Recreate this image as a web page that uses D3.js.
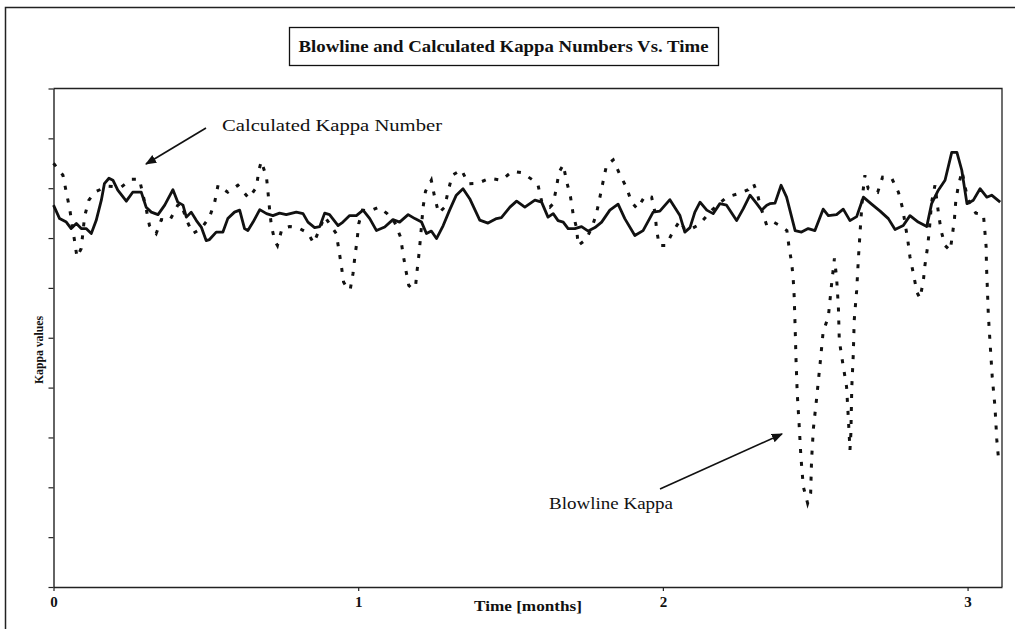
<!DOCTYPE html>
<html>
<head>
<meta charset="utf-8">
<script src="https://cdn.jsdelivr.net/npm/d3@7"></script>
<style>
  html, body { margin: 0; padding: 0; background: #fff; }
  svg { display: block; }
</style>
</head>
<body>
<svg id="chart" width="1015" height="629"></svg>
<script>
// Time axis ticks (months) and the unlabelled kappa gridline positions
const monthTicks = [0, 1, 2, 3];
const monthLabels = ["0", "1", "2", "3"];
const kappaTicks = [0, 10, 20, 30, 40, 50, 60, 70, 80, 90, 100];

// Calculated kappa number (solid line)
const calcTime = [0,0.020,0.042,0.058,0.075,0.091,0.107,0.124,0.140,0.157,
  0.167,0.182,0.195,0.211,0.239,0.260,0.288,0.304,0.321,0.343,
  0.365,0.392,0.408,0.425,0.436,0.452,0.469,0.485,0.501,0.512,
  0.534,0.556,0.572,0.594,0.611,0.627,0.638,0.655,0.677,0.699,
  0.720,0.742,0.764,0.797,0.819,0.835,0.857,0.874,0.890,0.906,
  0.934,0.950,0.972,0.994,1.016,1.038,1.060,1.087,1.114,1.136,
  1.164,1.186,1.208,1.224,1.240,1.257,1.279,1.300,1.322,1.344,
  1.366,1.399,1.426,1.454,1.470,1.498,1.520,1.547,1.580,1.602,
  1.623,1.640,1.656,1.673,1.689,1.711,1.733,1.755,1.777,1.799,
  1.826,1.853,1.875,1.908,1.935,1.968,1.990,2.023,2.056,2.072,
  2.089,2.105,2.122,2.144,2.165,2.187,2.209,2.242,2.264,2.286,
  2.308,2.324,2.341,2.351,2.368,2.388,2.406,2.434,2.455,2.477,
  2.499,2.526,2.543,2.570,2.592,2.614,2.636,2.658,2.685,2.713,
  2.740,2.762,2.789,2.811,2.838,2.866,2.882,2.904,2.926,2.948,
  2.965,2.981,2.998,3.019,3.041,3.063,3.079,3.107];
const calcKappa = [76.6,73.9,73.2,71.9,72.9,71.9,71.9,70.9,73.5,77.6,
  80.9,82.0,81.6,79.6,77.4,79.2,79.2,76.2,75.2,74.7,
  76.6,79.7,77.2,76.6,74.2,75.2,73.5,72.2,69.5,69.7,
  71.2,71.2,73.9,75.2,75.6,71.9,71.5,73.2,75.7,74.9,
  74.5,75.0,74.7,75.2,74.9,73.2,72.1,72.3,75.0,74.7,
  72.5,73.2,74.5,74.5,75.6,73.9,71.5,72.2,73.7,73.2,
  74.7,73.9,73.2,70.9,71.4,69.9,72.5,75.6,78.6,79.9,
  77.9,73.6,73.0,73.9,74.1,76.2,77.4,76.2,77.6,77.2,
  74.2,74.9,73.5,73.2,71.9,71.9,72.3,71.4,72.1,73.2,
  75.6,76.8,73.9,70.5,71.5,75.2,75.4,77.7,74.5,71.2,
  72.1,75.2,77.2,75.6,74.9,76.9,76.6,73.5,75.9,78.6,
  76.9,75.6,76.6,76.9,77.0,80.6,78.2,71.5,71.2,71.9,
  71.5,75.8,74.5,74.7,75.8,73.5,74.3,78.2,76.8,75.4,
  73.9,71.7,72.5,74.5,73.2,72.3,76.9,79.6,81.6,87.2,
  87.2,83.6,76.9,77.6,79.9,78.2,78.6,77.2];

// Blowline kappa (dotted line)
const blowTime = [0,0.031,0.042,0.053,0.069,0.077,0.091,0.102,0.116,0.135,
  0.177,0.222,0.255,0.282,0.304,0.315,0.337,0.354,0.381,0.408,
  0.419,0.436,0.457,0.485,0.512,0.529,0.540,0.572,0.605,0.641,
  0.666,0.674,0.682,0.699,0.704,0.709,0.715,0.726,0.735,0.750,
  0.775,0.802,0.835,0.854,0.890,0.928,0.937,0.945,0.952,0.966,
  0.974,0.983,0.989,0.996,1.002,1.014,1.038,1.068,1.095,1.120,
  1.139,1.147,1.156,1.166,1.176,1.188,1.193,1.199,1.204,1.213,
  1.221,1.240,1.251,1.264,1.284,1.295,1.309,1.339,1.361,1.393,
  1.432,1.470,1.506,1.538,1.574,1.590,1.602,1.629,1.640,1.651,
  1.659,1.673,1.684,1.697,1.705,1.717,1.722,1.747,1.766,1.782,
  1.793,1.804,1.815,1.837,1.859,1.881,1.897,1.916,1.941,1.963,
  1.974,1.979,1.988,2.010,2.034,2.056,2.072,2.095,2.119,2.161,
  2.209,2.247,2.280,2.297,2.310,2.319,2.341,2.363,2.390,2.407,
  2.414,2.423,2.428,2.431,2.434,2.437,2.441,2.447,2.453,2.461,
  2.475,2.485,2.488,2.494,2.505,2.516,2.526,2.543,2.554,2.563,
  2.570,2.576,2.579,2.587,2.603,2.609,2.614,2.617,2.620,2.625,
  2.628,2.636,2.642,2.649,2.656,2.663,2.674,2.705,2.721,2.751,
  2.773,2.787,2.804,2.811,2.822,2.834,2.844,2.855,2.860,2.868,
  2.874,2.882,2.893,2.904,2.913,2.926,2.943,2.950,2.957,2.961,
  2.970,2.982,2.992,3.002,3.027,3.052,3.057,3.061,3.062,3.064,
  3.068,3.074,3.081,3.090,3.096,3.101,3.107];
const blowKappa = [85.0,82.6,79.2,75.9,69.5,66.2,67.9,74.3,77.6,79.2,
  80.4,80.2,81.8,81.8,75.9,72.5,70.9,73.7,73.5,76.6,
  76.9,73.7,70.9,71.9,74.2,77.2,80.6,79.2,80.6,78.0,
  80.2,83.6,85.4,82.2,79.2,75.9,72.5,69.5,68.5,71.9,
  72.3,72.1,71.0,69.0,74.3,70.9,67.5,64.3,61.2,59.7,
  59.7,62.9,66.2,69.4,72.9,75.6,75.4,76.2,74.9,73.1,
  70.2,66.9,63.7,60.5,59.9,60.2,63.3,66.5,69.7,76.2,
  79.4,81.6,78.2,75.0,76.2,79.4,82.6,83.7,80.9,81.0,
  82.0,81.6,83.4,83.1,81.6,80.7,77.4,76.2,76.9,80.2,
  83.2,84.7,81.4,78.2,75.0,71.9,68.5,69.7,71.9,74.9,
  78.1,81.4,84.6,85.7,82.7,80.1,77.2,75.9,78.4,78.2,
  75.2,71.9,68.5,68.5,71.4,73.5,71.7,71.9,72.7,75.6,
  78.2,78.9,79.7,81.0,78.9,76.6,72.5,73.2,72.3,71.5,
  68.2,64.9,61.5,58.2,52.2,45.5,38.8,32.8,26.1,20.1,
  16.8,18.8,25.5,31.8,38.1,44.8,51.2,54.2,60.9,65.9,
  62.2,56.2,49.5,46.2,40.1,33.5,27.5,30.8,40.1,46.8,
  53.5,59.5,66.2,72.9,78.9,82.6,79.9,79.2,82.2,82.0,
  79.2,75.9,69.5,66.2,62.9,59.1,57.9,61.5,64.5,67.9,
  71.2,77.2,80.6,75.2,71.5,68.5,67.5,70.5,73.9,77.2,
  80.6,83.4,80.2,77.6,75.0,74.7,71.2,68.2,64.5,61.5,
  54.8,48.8,42.1,36.1,29.5,26.1,25.0];

const titleText = "Blowline and Calculated Kappa Numbers Vs. Time";
const calcLabel = "Calculated Kappa Number";
const blowLabel = "Blowline Kappa";
const xTitle = "Time [months]";
const yTitle = "Kappa values";

const svg = d3.select("#chart");
const serif = "'Liberation Serif', 'DejaVu Serif', serif";

const plot = { left: 53.5, top: 88.5, right: 1002, bottom: 587 };
const x = d3.scaleLinear().domain([0, 3.113]).range([plot.left, plot.right]);
const y = d3.scaleLinear().domain([0, 100]).range([plot.bottom, plot.top]);

// Page frame (top and left edges)
svg.append("path")
  .attr("d", "M5.5,629 L5.5,7.5 L1015,7.5")
  .attr("fill", "none").attr("stroke", "#222").attr("stroke-width", 1.5);

// Title box
svg.append("rect")
  .attr("x", 289.5).attr("y", 27.5).attr("width", 429).attr("height", 38)
  .attr("fill", "#fff").attr("stroke", "#111").attr("stroke-width", 1.3);
svg.append("text")
  .attr("x", 503.5).attr("y", 52)
  .attr("text-anchor", "middle")
  .attr("font-family", serif).attr("font-weight", "bold").attr("font-size", 17)
  .attr("textLength", 410).attr("lengthAdjust", "spacingAndGlyphs")
  .attr("fill", "#111")
  .text(titleText);

// Plot border: top and right edges
svg.append("path")
  .attr("d", `M${plot.left},${plot.top} L${plot.right},${plot.top} L${plot.right},${plot.bottom}`)
  .attr("fill", "none").attr("stroke", "#222").attr("stroke-width", 1.3);

// Axes
const yAxis = d3.axisLeft(y).tickValues(kappaTicks).tickFormat("").tickSize(5).tickSizeOuter(0);
const yG = svg.append("g").attr("transform", `translate(${plot.left},0)`).call(yAxis);
yG.select(".domain").attr("stroke", "#222").attr("stroke-width", 1.4);
yG.selectAll(".tick line").attr("stroke", "#222").attr("stroke-width", 1.2);

const xAxis = d3.axisBottom(x).tickValues(monthTicks)
  .tickFormat((d, i) => monthLabels[i]).tickSize(4).tickSizeOuter(0).tickPadding(5);
const xG = svg.append("g").attr("transform", `translate(0,${plot.bottom})`).call(xAxis);
xG.select(".domain").attr("stroke", "#222").attr("stroke-width", 1.4);
xG.selectAll(".tick line").attr("stroke", "#222").attr("stroke-width", 1.2);
xG.selectAll(".tick text")
  .attr("font-family", serif).attr("font-weight", "bold").attr("font-size", 15)
  .attr("fill", "#111");

// Axis titles
svg.append("text")
  .attr("x", 528).attr("y", 611)
  .attr("text-anchor", "middle")
  .attr("font-family", serif).attr("font-weight", "bold").attr("font-size", 15)
  .attr("textLength", 108).attr("lengthAdjust", "spacingAndGlyphs")
  .attr("fill", "#111")
  .text(xTitle);
svg.append("text")
  .attr("transform", "translate(43,350) rotate(-90)")
  .attr("text-anchor", "middle")
  .attr("font-family", serif).attr("font-weight", "bold").attr("font-size", 13)
  .attr("textLength", 68).attr("lengthAdjust", "spacingAndGlyphs")
  .attr("fill", "#111")
  .text(yTitle);

// Series
const line = d3.line().x(d => x(d[0])).y(d => y(d[1]));
const blowData = d3.zip(blowTime, blowKappa);
const calcData = d3.zip(calcTime, calcKappa);

svg.append("path")
  .datum(blowData)
  .attr("d", line)
  .attr("fill", "none").attr("stroke", "#111")
  .attr("stroke-width", 3).attr("stroke-dasharray", "4,9");

svg.append("path")
  .datum(calcData)
  .attr("d", line)
  .attr("fill", "none").attr("stroke", "#111")
  .attr("stroke-width", 2.8).attr("stroke-linejoin", "round");

// Annotations with arrows
const defs = svg.append("defs");
defs.append("marker")
  .attr("id", "arrowhead")
  .attr("viewBox", "0 0 10 10").attr("refX", 9).attr("refY", 5)
  .attr("markerWidth", 7).attr("markerHeight", 7).attr("orient", "auto")
  .append("path").attr("d", "M0,1 L10,5 L0,9 z").attr("fill", "#111");

svg.append("text")
  .attr("x", 222).attr("y", 131)
  .attr("font-family", serif).attr("font-size", 17)
  .attr("textLength", 220).attr("lengthAdjust", "spacingAndGlyphs")
  .attr("fill", "#111")
  .text(calcLabel);
svg.append("line")
  .attr("x1", 206).attr("y1", 128).attr("x2", 146).attr("y2", 164)
  .attr("stroke", "#111").attr("stroke-width", 1.6)
  .attr("marker-end", "url(#arrowhead)");

svg.append("text")
  .attr("x", 549).attr("y", 509)
  .attr("font-family", serif).attr("font-size", 17)
  .attr("textLength", 124).attr("lengthAdjust", "spacingAndGlyphs")
  .attr("fill", "#111")
  .text(blowLabel);
svg.append("line")
  .attr("x1", 660).attr("y1", 489).attr("x2", 782).attr("y2", 434)
  .attr("stroke", "#111").attr("stroke-width", 1.6)
  .attr("marker-end", "url(#arrowhead)");
</script>
</body>
</html>
